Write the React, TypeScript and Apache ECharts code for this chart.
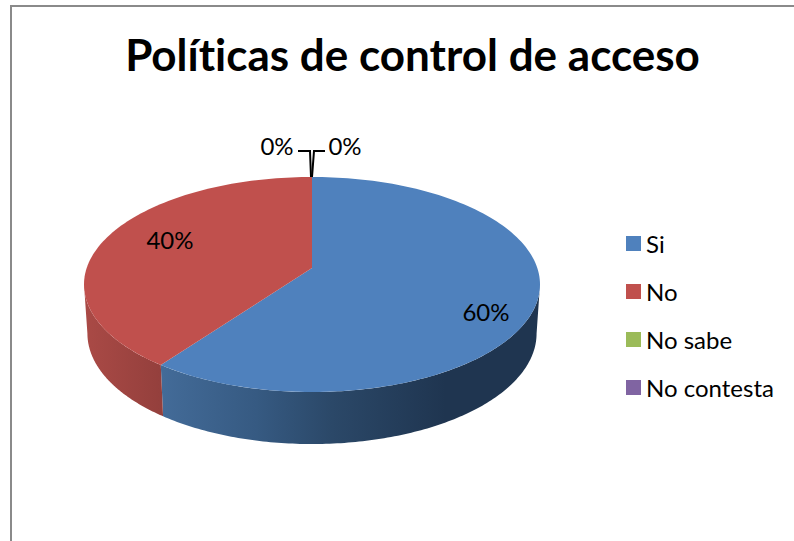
import React, { useEffect, useRef } from "react";
import * as echarts from "echarts";

const categories = ["Si", "No", "No sabe", "No contesta"];
const shares = [60, 40, 0, 0];
const colors = ["#4f81bd", "#c0504d", "#9bbb59", "#8064a2"];
const titleText = "Políticas de control de acceso";

// Perspective model of the tilted disc
const CX = 312;
const CY = 268;
const RX = 225.3;
const RY = 105;
const TILT = 0.1535;
const DEPTH = 52;
const BASE_SHRINK = 0.985;
const FONT = "Lato";
// Rim angle at which the disc reaches its widest point on the page
const SILHOUETTE = Math.acos(-TILT);

// Side wall shading, left to right in page coordinates
const wallShades: Record<number, { x0: number; x1: number; stops: [number, string][] }> = {
  0: {
    x0: 162,
    x1: 540,
    stops: [
      [0, "#436b98"],
      [0.25, "#365a82"],
      [0.45, "#2b4868"],
      [0.75, "#1f3550"],
      [1, "#1f3550"],
    ],
  },
  1: {
    x0: 84,
    x1: 165,
    stops: [
      [0, "#aa4a46"],
      [1, "#933f3c"],
    ],
  },
};

// Label centres for the visible slices
const labelAnchors: Record<number, [number, number]> = {
  0: [486, 311],
  1: [170, 239],
};

// Leader lines and their labels for the empty slices, at the top of the disc
const leaders: Record<number, { line: number[][]; text: [number, number]; align: string }> = {
  2: { line: [[298, 151], [310, 151], [311, 177]], text: [277, 145], align: "center" },
  3: { line: [[325, 151], [314, 151], [312, 177]], text: [345, 145], align: "center" },
};

function project(angle: number): [number, number] {
  const px = Math.sin(angle);
  const py = -Math.cos(angle);
  const w = 1 - TILT * py;
  return [CX + (RX * px) / w, CY + (RY * py) / w];
}

function toBase(p: [number, number], angle: number): [number, number] {
  return [CX + (p[0] - CX) * BASE_SHRINK, p[1] + DEPTH * (0.93 + 0.07 * Math.max(0, -Math.cos(angle)))];
}

function arcAngles(start: number, end: number, steps: number): number[] {
  const out: number[] = [];
  for (let s = 0; s <= steps; s++) out.push(start + ((end - start) * s) / steps);
  return out;
}

function sliceRenderer(index: number) {
  return (_params: any, api: any) => {
    const value = api.value(0) as number;
    const total = shares.reduce((a, b) => a + b, 0);
    const before = shares.slice(0, index).reduce((a, b) => a + b, 0);
    const children: any[] = [];
    const textFont = `24px ${FONT}`;

    if (value > 0) {
      const start = (before / total) * Math.PI * 2;
      const end = ((before + value) / total) * Math.PI * 2;
      const steps = Math.max(24, Math.round((value / total) * 240));
      const rim = arcAngles(start, end, steps).map(project);

      // The wall only shows between the two silhouette points
      const wallStart = Math.max(start, SILHOUETTE);
      const wallEnd = Math.min(end, Math.PI * 2 - SILHOUETTE);
      if (wallEnd > wallStart) {
        const wallAngles = arcAngles(wallStart, wallEnd, steps);
        const wallRim = wallAngles.map(project);
        const wallBase = wallRim.map((p, i) => toBase(p, wallAngles[i]));
        const shade = wallShades[index];
        children.push({
          type: "polygon",
          z2: 1,
          shape: { points: [...wallRim, ...wallBase.slice().reverse()] },
          style: {
            fill: new echarts.graphic.LinearGradient(shade.x0, 0, shade.x1, 0, shade.stops.map(([offset, color]) => ({ offset, color })), true),
          },
        });
      }
      children.push({
        type: "polygon",
        z2: 2,
        shape: { points: [[CX, CY], ...rim] },
        style: { fill: colors[index] },
      });
      const [lx, ly] = labelAnchors[index];
      children.push({
        type: "text",
        z2: 3,
        style: { text: `${value}%`, x: lx, y: ly, fill: "#000", font: textFont, textAlign: "center", textVerticalAlign: "middle" },
      });
    } else {
      const leader = leaders[index];
      children.push({
        type: "polyline",
        z2: 3,
        shape: { points: leader.line },
        style: { stroke: "#000", lineWidth: 2, fill: "none" },
      });
      children.push({
        type: "text",
        z2: 3,
        style: { text: `${value}%`, x: leader.text[0], y: leader.text[1], fill: "#000", font: textFont, textAlign: leader.align, textVerticalAlign: "middle" },
      });
    }
    return { type: "group", children };
  };
}

export default function App() {
  const ref = useRef<HTMLDivElement>(null);

  useEffect(() => {
    const chart = echarts.init(ref.current!, undefined, { renderer: "svg" });
    chart.setOption({
      animation: false,
      backgroundColor: "#ffffff",
      color: colors,
      title: {
        text: titleText,
        left: 407.5,
        top: 27,
        textAlign: "center",
        textStyle: { fontFamily: FONT, fontWeight: "bold", fontSize: 44, color: "#000" },
      },
      legend: {
        orient: "vertical",
        left: 621,
        top: 226,
        icon: "rect",
        itemWidth: 15,
        itemHeight: 15,
        itemGap: 23,
        data: categories,
        selectedMode: false,
        textStyle: { fontFamily: FONT, fontSize: 24, color: "#000", lineHeight: 25 },
      },
      graphic: [
        { type: "rect", shape: { x: 10, y: 5, width: 784, height: 2 }, style: { fill: "#8a8a8a" } },
        { type: "rect", shape: { x: 10, y: 5, width: 2, height: 536 }, style: { fill: "#8a8a8a" } },
      ],
      series: categories.map((name, i) => ({
        type: "custom",
        name,
        coordinateSystem: "none",
        silent: true,
        itemStyle: { color: colors[i] },
        data: [[shares[i]]],
        renderItem: sliceRenderer(i),
      })),
    });
    return () => chart.dispose();
  }, []);

  return <div ref={ref} style={{ position: "absolute", left: 0, top: 0, width: 794, height: 541, fontVariantLigatures: "none" }} />;
}
